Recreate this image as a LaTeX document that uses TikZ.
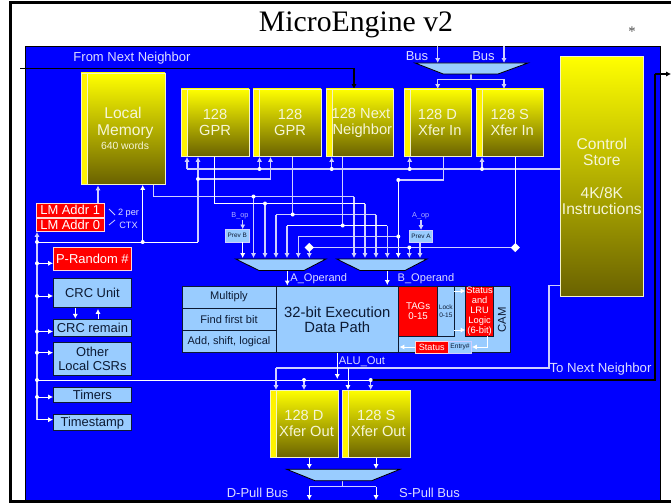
\documentclass[tikz,border=0pt]{standalone}
\usepackage{fontspec}
\setmainfont{Liberation Sans}
\newfontfamily\timesf{Liberation Serif}
\usetikzlibrary{arrows.meta,shapes.geometric}
\definecolor{panel}{HTML}{0000FF}
\definecolor{pale}{HTML}{CFCFFF}
\definecolor{lab}{HTML}{DDDDFF}
\definecolor{dimlab}{HTML}{AFAFFF}
\definecolor{ltb}{HTML}{99CCFF}
\definecolor{olv}{HTML}{6A6200}
\definecolor{ink}{HTML}{0C1A33}
\definecolor{edge}{HTML}{F2F2C8}
\definecolor{memtext}{HTML}{F6F6D8}
\newcommand\fpx[2]{\fontsize{#1pt}{#2pt}\selectfont}
% name, x1, y1, x2, y2, style, text
\newcommand\mkbox[7]{\node[inner sep=0pt,outer sep=0pt,align=center,minimum width={(#4-#2)*0.75pt},minimum height={(#5-#3)*0.75pt},#6] (#1) at ({(#2+#4)/2},{(#3+#5)/2}) {#7};}
\tikzset{
  pl/.style={draw=pale,line width=0.85pt},
  wl/.style={draw=white,line width=0.7pt},
  bl/.style={draw=black,line width=0.8pt},
  tip/.style={-{Latex[length=3.6pt,width=3.9pt]}},
  memb/.style={top color=yellow,bottom color=olv,draw=edge,line width=0.7pt,text=memtext,font=\fpx{11}{12}},
  strip/.style={fill=yellow,draw=edge,line width=0.7pt},
  blueb/.style={fill=ltb,draw=ink,line width=0.7pt,text=ink,font=\fpx{9.7}{10.5}},
  redb/.style={fill=red,draw=white!85!red,line width=0.7pt,text=white,font=\fpx{9.7}{10.5}},
  smallb/.style={fill=ltb,draw=pale,line width=0.7pt,text=ink,font=\fpx{4.8}{5}},
  muxs/.style={fill=ltb,draw=black,line width=0.6pt},
  lbl/.style={text=lab,inner sep=0pt,font=\fpx{9.75}{10.5}},
  dotp/.style={fill=white,draw=none,circle,minimum size=3pt,inner sep=0pt},
  bigd/.style={fill=white,draw=none,diamond,minimum size=7pt,inner sep=0pt}
}
\begin{document}
\begin{tikzpicture}[x=0.75pt,y=-0.75pt]
\useasboundingbox (0,0) rectangle (671,503);
\fill[white] (0,0) rectangle (671,503);
% panel and frame
\path[fill=panel,draw=black,line width=0.7pt] (25,46) rectangle (660.5,501);
\fill[black] (9,1.5) rectangle (671,4);
\fill[black] (9,1.5) rectangle (11.5,503);
\fill[black] (9,500) rectangle (671,503);
% title
\node[font=\timesf\fpx{22.3}{24},text=black,inner sep=0pt] (title) at (356,25) {MicroEngine v2};
\node[font=\timesf\fpx{11}{12},text=black!70,inner sep=0pt] (star) at (632,32) {*};
% named connection points
\foreach \n/\x/\y in {
 nnin/20/68.5, nncorner/354/68.5, nntip/354/89,
 b0/187/169, b1/259.5/169, b2/331.7/169, b3/409.7/169, b4/482/169, b5/560/169,
 t0/187/157, t1/259.5/157, t2/331.7/157, t3/409.7/157, t4/482/157,
 rdj/198/179, rdr/270.5/179, rdtip1/198/157, rdtip2/270.5/157, rdb/198/242,
 lmtip/142.7/185, lmj/142.7/242, lj/37/242, ltip/37/232,
 lmout/153.5/184, lmc/153.5/196.5, lmr/354/196.5, lmd/253.5/196.5,
 g1o/214.7/156, g1c/214.7/203.5, g1r/365/203.5, g1d/265/203.5,
 g2o/292.7/156, g2d/292.7/214.5, g2l/276/214.5, g2r/376/214.5,
 n3o/342.7/156, n3d/342.7/225.5, n3l/287/225.5, n3r/387.3/225.5,
 dio/443.3/156, dic/443.3/180, dil/398.3/180, did/398.3/236.5, dill/298.3/236.5,
 sio/515.3/156, sid/515.3/247.5, sil/309.3/247.5, sim/409.3/247.5,
 a1/242.7/258, a2/253.5/258, a3/265/258, a4/276/258, a5/287/258, a6/298.3/258, a7/309.3/258,
 c1/354/258, c2/365/258, c3/376/258, c4/387.3/258, c5/398.3/258, c6/409.3/258, c7/420/258,
 aout/287.3/270.5, aoutt/287.3/285.5, bout/387.3/270.5, boutt/387.3/285,
 bop/242.7/220, aop/421/220,
 v0/37/232, v1/37/263.3, v2/37/296, v3/37/331.5, v4/37/352.7, v5/37/380, v6/37/397, v7/37/419.7,
 w1/53/263.3, w2/53/296, w3/53/331.5, w4/53/352.7, w6/53/397, w7/53/419.7,
 crcd1/75.3/308.3, crcd2/75.3/318.7, crcu1/98/319, crcu2/98/309,
 lma/98/203, lmat/98/185.5,
 bk/372/380, br/655/380, bu/655/74, be/671/74,
 nb1/276/368, nb2/549/368, nb3/549/285.5, nb4/560/285.5, nbd1/276/390, nb5/348/368, nbd2/348/390,
 p1/304/380, p1t/304/390, p2/370.7/380, p2t/370.7/390,
 alu1/337.3/353, alu2/337.3/379,
 do/309.3/457.7, dot/309.3/469, so/376/457.7, sot/376/469,
 pm/342.7/481, pc/342.7/486.5, pl/309.3/486.5, pr/376/486.5, ple/309.3/500, pre/376/500,
 tm/471/74, tc/471/79.5, tl/437.7/79.5, tr/504/79.5, tld/437.7/89, trd/504/89,
 bus1/437.7/46, bus1t/437.7/63, bus2/504/46, bus2t/504/63,
 lk1/454/291, lk1t/465.5/291, lk2/454/330, lk2t/465.5/330,
 en1/487.7/336, en2/487.7/347, en3/472/347, st1/415/347, st2/399.5/347,
 sl1/109/209, sl2/115/215, sl3/109/225, sl4/115/220
}{\coordinate (\n) at (\x,\y);}
% buses
\draw[bl] (nnin) -- (nncorner);
\draw[bl,tip] (nncorner) -- (nntip);
\draw[pl] (b0) -- (b5);
\foreach \f/\g in {b0/t0,b1/t1,b2/t2,b3/t3,b4/t4} \draw[pl,tip] (\f) -- (\g);
\draw[pl,tip] (rdb) -- (rdtip1);
\draw[pl] (rdj) -- (rdr);
\draw[pl,tip] (rdr) -- (rdtip2);
\draw[wl] (lj) -- (rdb);
\draw[wl,tip] (lmj) -- (lmtip);
\draw[pl,tip] (lj) -- (ltip);
\draw[pl,tip] (lma) -- (lmat);
% to the multiplexers
\draw[pl] (lmout) -- (lmc) -- (lmr);
\draw[pl,tip] (lmr) -- (c1);
\draw[pl,tip] (lmd) -- (a2);
\draw[wl] (g1o) -- (g1c) -- (g1r);
\draw[pl,tip] (g1r) -- (c2);
\draw[pl,tip] (g1d) -- (a3);
\draw[pl] (g2o) -- (g2d);
\draw[pl] (g2l) -- (g2r);
\draw[pl,tip] (g2l) -- (a4);
\draw[pl,tip] (g2r) -- (c3);
\draw[pl] (n3o) -- (n3d);
\draw[wl] (n3l) -- (n3r);
\draw[pl,tip] (n3l) -- (a5);
\draw[pl,tip] (n3r) -- (c4);
\draw[pl] (dio) -- (dic) -- (dil);
\draw[wl,tip] (dil) -- (c5);
\draw[pl] (dill) -- (did);
\draw[pl,tip] (dill) -- (a6);
\draw[wl] (sio) -- (sid);
\draw[pl] (sil) -- (sid);
\draw[pl,tip] (sil) -- (a7);
\draw[pl,tip] (sim) -- (c6);
\draw[wl,tip] (aout) -- (aoutt);
\draw[wl,tip] (bout) -- (boutt);
% left column
\draw[pl] (lj) -- (v5);
\draw[pl] (v5) -- (v7);
\foreach \f/\g in {v1/w1,v2/w2,v3/w3,v4/w4,v6/w6,v7/w7} \draw[wl,tip] (\f) -- (\g);
\draw[wl,tip] (crcd1) -- (crcd2);
\draw[wl,tip] (crcu1) -- (crcu2);
\draw[wl] (v5) -- (bk);
\draw[bl] (bk) -- (br) -- (bu);
\draw[bl,tip] (bu) -- (be);
% to next neighbor
\draw[pl] (nb4) -- (nb3) -- (nb2) -- (nb1);
\draw[pl,tip] (nb1) -- (nbd1);
\draw[wl,tip] (nb5) -- (nbd2);
\draw[pl,tip] (p1) -- (p1t);
\draw[pl,tip] (p2) -- (p2t);
\draw[wl,tip] (alu1) -- (alu2);
% bottom and top mux wiring
\draw[wl,tip] (do) -- (dot);
\draw[wl,tip] (so) -- (sot);
\draw[pl] (pm) -- (pc);
\draw[pl] (pl) -- (pr);
\draw[wl,tip] (pl) -- (ple);
\draw[wl,tip] (pr) -- (pre);
\draw[pl] (tm) -- (tc);
\draw[pl] (tl) -- (tr);
\draw[pl,tip] (tl) -- (tld);
\draw[pl,tip] (tr) -- (trd);
\draw[pl,tip] (bus1) -- (bus1t);
\draw[pl,tip] (bus2) -- (bus2t);
% slashes
\draw[pl,line width=0.6pt] (sl1) -- (sl2);
\draw[pl,line width=0.6pt] (sl3) -- (sl4);
% dots
\foreach \p in {b1,b2,b3,b4,rdj,lj,lmj,lmd,g1d,g2d,n3d,did,sim,dil,v1,v2,v3,v4,v5,v6,p1,p2}
  \node[dotp] at (\p) {};
\node[bigd] at (sil) {};
\node[bigd] at (sid) {};
% memories
\mkbox{lm}{81}{73}{165}{184}{memb,font=\fpx{11.7}{12.8}}{Local\\\hspace*{3.5pt}Memory\\[-2pt]\hspace*{3pt}{\fpx{7.8}{8.2}640 words}}
\mkbox{lmsb}{81}{73}{87}{184}{strip}{}
\mkbox{gpra}{181}{89}{249}{156}{memb}{128\\GPR}
\mkbox{gprasb}{181}{89}{187}{156}{strip}{}
\mkbox{gprb}{253}{89}{321}{156}{memb}{\hspace*{4.5pt}128\\\hspace*{4.5pt}GPR}
\mkbox{gprbsb}{253}{89}{259}{156}{strip}{}
\mkbox{nn}{326}{89}{393.3}{156}{memb}{\hspace*{2pt}128 Next\\\hspace*{4pt}Neighbor}
\mkbox{nnsb}{326}{89}{332}{156}{strip}{}
\mkbox{din}{404}{89}{471}{156}{memb}{128 D\\\hspace*{3.5pt}Xfer In}
\mkbox{dinsb}{404}{89}{410}{156}{strip}{}
\mkbox{sin}{476}{89}{543.7}{156}{memb}{128 S\\\hspace*{3.5pt}Xfer In}
\mkbox{sinsb}{476}{89}{482}{156}{strip}{}
\mkbox{dout}{270}{390}{338}{457.7}{memb}{128 D\\\hspace*{3.8pt}Xfer Out}
\mkbox{doutsb}{270}{390}{276}{457.7}{strip}{}
\mkbox{sout}{342.7}{390}{410}{457.7}{memb}{128 S\\\hspace*{3pt}Xfer Out}
\mkbox{soutsb}{342.7}{390}{348.5}{457.7}{strip}{}
\mkbox{cs}{560}{56.5}{643.7}{296}{memb,font=\fpx{11.7}{12.2}}{Control\\Store\\[12.3pt]4K/8K\\Instructions}
% left column boxes
\mkbox{lma1}{36.3}{203}{104}{217.5}{redb}{LM Addr 1}
\mkbox{lma0}{36.3}{218}{104}{231.5}{redb}{LM Addr 0}
\mkbox{prand}{53.3}{247.3}{131.5}{270.7}{redb}{P-Random \#}
\mkbox{crcun}{53.3}{278.7}{131.5}{307}{blueb}{CRC Unit}
\mkbox{crcre}{53.3}{319.3}{131.5}{336.3}{blueb}{CRC remain}
\mkbox{csrs}{53.3}{342.7}{131.5}{375}{blueb}{Other\\Local CSRs}
\mkbox{timers}{53.3}{387}{131.5}{402.7}{blueb}{Timers}
\mkbox{tstamp}{53.3}{414.7}{131.5}{430.7}{blueb}{Timestamp}
% muxes
\path[muxs] (235.7,259) -- (326,259) -- (304,270.5) -- (259,270.5) -- cycle;
\path[muxs] (336.7,259) -- (427,259) -- (405,270.5) -- (360,270.5) -- cycle;
\path[muxs] (415,63) -- (528,63) -- (498,74) -- (443.3,74) -- cycle;
\path[muxs] (286.7,469.3) -- (400,469.3) -- (371.7,480.7) -- (315,480.7) -- cycle;
% prev boxes
\mkbox{prevb}{225.5}{229.3}{249}{242}{smallb}{Prev B}
\mkbox{preva}{409.3}{230}{432.7}{242}{smallb}{Prev A}
\draw[pl,tip] (bop) -- (prevb.north -| bop);
\draw[pl,tip] (aop) -- (preva.north -| aop);
\draw[wl,tip] (prevb.south -| a1) -- (a1);
\draw[pl,tip] (preva.south -| c7) -- (c7);
% execution unit
\mkbox{mult}{182}{286}{276}{308}{blueb,font=\fpx{8.3}{9}}{Multiply}
\mkbox{ffb}{182}{308}{276}{330.5}{blueb,font=\fpx{8.3}{9}}{Find first bit}
\mkbox{asl}{182}{330.5}{276}{352.7}{blueb,font=\fpx{8.2}{9}}{Add, shift, logical}
\mkbox{exec}{276}{286}{398.5}{352.7}{blueb,font=\fpx{11.1}{11.3}}{32-bit Execution\\Data Path}
\mkbox{camr}{398.5}{286}{510}{352.7}{blueb}{}
\mkbox{tags}{398.5}{286}{437.7}{336}{fill=red,draw=ink,line width=0.7pt,text=white,font=\fpx{7.3}{7.6}}{TAGs\\0-15}
\mkbox{lock}{437.7}{286}{454}{336}{blueb,font=\fpx{4.9}{5.8}}{Lock\\0-15}
\mkbox{lru}{465.5}{286}{493.7}{336}{fill=red,draw=ink,line width=0.7pt,text=white,font=\fpx{7}{7.4}}{Status\\and\\LRU\\Logic\\(6-bit)}
\node[rotate=90,text=ink,inner sep=0pt,font=\fpx{8.5}{9}] (camt) at (502,320) {CAM};
\mkbox{stat}{415}{341}{448.5}{353}{redb,font=\fpx{6.8}{7}}{Status}
\mkbox{entry}{448.5}{341}{471.5}{353}{smallb,font=\fpx{5}{5.5}}{Entry\#}
\draw[wl,tip] (lk1) -- (lk1t);
\draw[wl,tip] (lk2) -- (lk2t);
\draw[wl] (en1) -- (en2);
\draw[wl,tip] (en2) -- (en3);
\draw[wl,tip] (st1) -- (st2);
% labels
\node[lbl] (fnn) at (132,58.5) {From Next Neighbor};
\node[lbl] (bu1) at (417,56.5) {Bus};
\node[lbl] (bu2) at (483.5,56.5) {Bus};
\node[lbl,font=\fpx{6.9}{7.5}] (perc) at (128.5,213) {2 per};
\node[lbl,font=\fpx{6.9}{7.5}] (ctx) at (128.5,225) {CTX};
\node[lbl,text=dimlab,font=\fpx{5.5}{6}] (bopt) at (240,215.5) {B\_op};
\node[lbl,text=dimlab,font=\fpx{5.5}{6}] (aopt) at (420.7,215.5) {A\_op};
\node[lbl,font=\fpx{8.3}{9}] (aon) at (318.7,279) {A\_Operand};
\node[lbl,font=\fpx{8.3}{9}] (bon) at (426,278.5) {B\_Operand};
\node[lbl,font=\fpx{8.4}{9}] (alu) at (362,362) {ALU\_Out};
\node[lbl,font=\fpx{9.9}{10.5}] (tnn) at (600.5,369.5) {To Next Neighbor};
\node[lbl] (dpb) at (257.5,492.5) {D-Pull Bus};
\node[lbl] (spb) at (429.5,492.5) {S-Pull Bus};
\end{tikzpicture}
\end{document}
